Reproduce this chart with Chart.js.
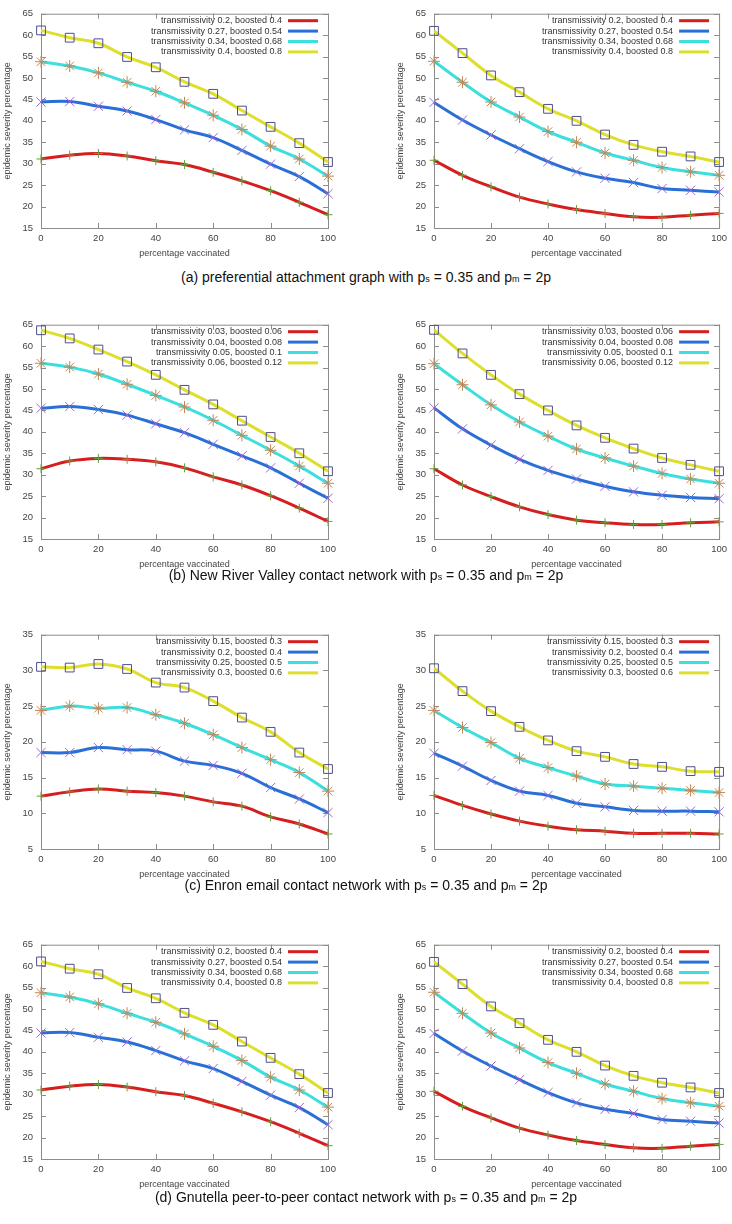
<!DOCTYPE html>
<html lang="en">
<head>
<meta charset="UTF-8">
<title>Epidemic severity vs percentage vaccinated</title>
<script src="https://cdn.jsdelivr.net/npm/chart.js"></script>
<style>
  body { margin: 0; background: #fff; font-family: "Liberation Sans", Arial, sans-serif; }
  #page { position: relative; width: 732px; height: 1224px; overflow: hidden; }
  .panel { position: absolute; width: 366px; height: 262px; }
  .caption { position: absolute; left: 0; width: 732px; text-align: center; font-size: 14px; line-height: 16px; color: #111; }
  .caption .sub { font-size: 9px; }
</style>
</head>
<body>
<div id="page">
  <canvas class="panel" id="aL" width="366" height="262" style="left:0;top:0"></canvas>
  <canvas class="panel" id="aR" width="366" height="262" style="left:366px;top:0"></canvas>
  <div class="caption" style="top:269px">(a) preferential attachment graph with p<span class="sub">s</span> = 0.35 and p<span class="sub">m</span> = 2p</div>

  <canvas class="panel" id="bL" width="366" height="262" style="left:0;top:311px"></canvas>
  <canvas class="panel" id="bR" width="366" height="262" style="left:366px;top:311px"></canvas>
  <div class="caption" style="top:567px">(b) New River Valley contact network with p<span class="sub">s</span> = 0.35 and p<span class="sub">m</span> = 2p</div>

  <canvas class="panel" id="cL" width="366" height="262" style="left:0;top:621px"></canvas>
  <canvas class="panel" id="cR" width="366" height="262" style="left:366px;top:621px"></canvas>
  <div class="caption" style="top:877px">(c) Enron email contact network with p<span class="sub">s</span> = 0.35 and p<span class="sub">m</span> = 2p</div>

  <canvas class="panel" id="dL" width="366" height="262" style="left:0;top:931px"></canvas>
  <canvas class="panel" id="dR" width="366" height="262" style="left:366px;top:931px"></canvas>
  <div class="caption" style="top:1189px">(d) Gnutella peer-to-peer contact network with p<span class="sub">s</span> = 0.35 and p<span class="sub">m</span> = 2p</div>
</div>

<script>
  // x values and tick labels
  const vaccinated = [0, 10, 20, 30, 40, 50, 60, 70, 80, 90, 100];
  const xTickValues = [0, 20, 40, 60, 80, 100];
  const yTicksHigh = [15, 20, 25, 30, 35, 40, 45, 50, 55, 60, 65];
  const yTicksLow = [5, 10, 15, 20, 25, 30, 35];

  // legend labels
  const labelsA = ['transmissivity 0.2, boosted 0.4', 'transmissivity 0.27, boosted 0.54',
                   'transmissivity 0.34, boosted 0.68', 'transmissivity 0.4, boosted 0.8'];
  const labelsB = ['transmissivity 0.03, boosted 0.06', 'transmissivity 0.04, boosted 0.08',
                   'transmissivity 0.05, boosted 0.1', 'transmissivity 0.06, boosted 0.12'];
  const labelsC = ['transmissivity 0.15, boosted 0.3', 'transmissivity 0.2, boosted 0.4',
                   'transmissivity 0.25, boosted 0.5', 'transmissivity 0.3, boosted 0.6'];

  // (a) preferential attachment (also reused for (d), same picture)
  const aLeftRed    = [31.1, 32.0, 32.4, 31.8, 30.7, 29.8, 28.0, 26.0, 23.7, 21.0, 18.1];
  const aLeftBlue   = [44.4, 44.5, 43.4, 42.3, 40.3, 37.9, 36.1, 33.1, 29.9, 27.0, 23.0];
  const aLeftCyan   = [53.8, 52.8, 51.2, 49.0, 46.9, 44.2, 41.3, 38.0, 34.1, 31.1, 27.1];
  const aLeftYellow = [61.1, 59.4, 58.1, 54.9, 52.5, 49.1, 46.3, 42.4, 38.6, 34.8, 30.4];

  const aRightRed    = [30.8, 27.3, 24.6, 22.2, 20.6, 19.3, 18.4, 17.6, 17.5, 18.0, 18.4];
  const aRightBlue   = [44.3, 40.2, 36.7, 33.5, 30.5, 28.1, 26.6, 25.6, 24.2, 23.8, 23.4];
  const aRightCyan   = [53.9, 49.0, 44.4, 40.9, 37.5, 35.0, 32.5, 30.8, 29.1, 28.1, 27.3];
  const aRightYellow = [61.0, 55.8, 50.6, 46.7, 42.8, 40.0, 36.8, 34.4, 32.8, 31.7, 30.4];

  // (b) New River Valley
  const bLeftRed    = [31.4, 33.2, 33.8, 33.6, 33.0, 31.6, 29.5, 27.6, 25.1, 22.2, 19.1];
  const bLeftBlue   = [45.5, 45.9, 45.2, 43.9, 41.9, 39.8, 37.1, 34.4, 31.6, 28.0, 24.5];
  const bLeftCyan   = [56.0, 55.1, 53.5, 51.1, 48.5, 45.8, 42.7, 39.2, 35.7, 32.0, 28.0];
  const bLeftYellow = [63.7, 61.8, 59.2, 56.4, 53.3, 49.8, 46.4, 42.6, 38.8, 35.0, 30.8];

  const bRightRed    = [31.4, 27.6, 24.9, 22.5, 20.7, 19.4, 18.8, 18.4, 18.4, 18.8, 19.0];
  const bRightBlue   = [45.6, 40.7, 36.9, 33.6, 31.0, 29.0, 27.3, 26.0, 25.2, 24.7, 24.4];
  const bRightCyan   = [55.9, 51.0, 46.3, 42.3, 39.0, 36.0, 33.9, 32.0, 30.3, 29.0, 28.0];
  const bRightYellow = [63.8, 58.3, 53.3, 48.8, 45.0, 41.5, 38.6, 36.1, 33.9, 32.3, 30.8];

  // (c) Enron email
  const cLeftRed    = [12.4, 13.0, 13.4, 13.1, 12.9, 12.4, 11.6, 11.0, 9.5, 8.5, 7.1];
  const cLeftBlue   = [18.5, 18.5, 19.2, 18.9, 18.7, 17.3, 16.7, 15.6, 13.6, 12.0, 10.1];
  const cLeftCyan   = [24.4, 25.0, 24.7, 24.8, 23.8, 22.6, 21.0, 19.2, 17.5, 15.7, 13.1];
  const cLeftYellow = [30.5, 30.4, 30.9, 30.2, 28.3, 27.6, 25.7, 23.4, 21.4, 18.5, 16.2];

  const cRightRed    = [12.5, 11.1, 9.9, 8.9, 8.2, 7.7, 7.5, 7.2, 7.2, 7.2, 7.1];
  const cRightBlue   = [18.4, 16.6, 14.6, 13.1, 12.5, 11.4, 10.9, 10.4, 10.3, 10.3, 10.2];
  const cRightCyan   = [24.4, 22.0, 19.9, 17.7, 16.4, 15.2, 14.1, 13.8, 13.5, 13.2, 12.9];
  const cRightYellow = [30.3, 27.1, 24.3, 22.1, 20.2, 18.7, 17.9, 16.9, 16.5, 15.9, 15.8];

  // styles (gnuplot-ish)
  const lineColors = ['#d61e1e', '#2a6fd6', '#3ddede', '#dede2c'];
  const markerColors = ['#6a9e40', '#9a6ad0', '#c08858', '#4e4e8a'];
  const markerStyles = ['cross', 'crossRot', 'star', 'rect'];
  const markerSizes = [4.5, 6.5, 6, 6.2];
  const textColor = '#444';
  const fontFamily = '"Liberation Sans", Arial, sans-serif';

  // frame with gnuplot style inner tick marks on all four sides
  const framePlugin = {
    id: 'frame',
    beforeDatasetsDraw(chart) {
      const { ctx, chartArea: a, scales } = chart;
      ctx.save();
      ctx.strokeStyle = '#8c8c8c';
      ctx.lineWidth = 1;
      ctx.strokeRect(a.left + 0.5, a.top + 0.5, a.right - a.left, a.bottom - a.top);
      ctx.beginPath();
      scales.x.ticks.forEach(t => {
        const x = Math.round(scales.x.getPixelForValue(t.value)) + 0.5;
        ctx.moveTo(x, a.bottom); ctx.lineTo(x, a.bottom - 5);
        ctx.moveTo(x, a.top); ctx.lineTo(x, a.top + 5);
      });
      scales.y.ticks.forEach(t => {
        const y = Math.round(scales.y.getPixelForValue(t.value)) + 0.5;
        ctx.moveTo(a.left, y); ctx.lineTo(a.left + 5, y);
        ctx.moveTo(a.right, y); ctx.lineTo(a.right - 5, y);
      });
      ctx.stroke();
      ctx.restore();
    }
  };

  // key in the top right corner: text first, line sample after it
  const keyPlugin = {
    id: 'gnuKey',
    afterDatasetsDraw(chart, args, opts) {
      const { ctx, chartArea: a } = chart;
      ctx.save();
      ctx.font = '9px ' + fontFamily;
      ctx.textAlign = 'right';
      ctx.textBaseline = 'middle';
      opts.labels.forEach((text, i) => {
        const y = a.top + 7 + i * 10.4;
        ctx.fillStyle = '#333';
        ctx.fillText(text, a.right - 46, y);
        ctx.strokeStyle = lineColors[i];
        ctx.lineWidth = 3;
        ctx.beginPath();
        ctx.moveTo(a.right - 40, y);
        ctx.lineTo(a.right - 10, y);
        ctx.stroke();
      });
      ctx.restore();
    }
  };

  function makePanel(id, side, series, labels, yTicks) {
    const lines = series.map((vals, i) => ({
      data: vals.map((v, k) => ({ x: vaccinated[k], y: v })),
      borderColor: lineColors[i],
      borderWidth: 3,
      tension: 0.4,
      pointRadius: 0,
      fill: false,
      clip: false,
      order: 1
    }));
    const marks = series.map((vals, i) => ({
      data: vals.map((v, k) => ({ x: vaccinated[k], y: v })),
      showLine: false,
      pointStyle: markerStyles[i],
      pointRadius: markerSizes[i],
      pointBorderWidth: 1,
      borderColor: markerColors[i],
      backgroundColor: 'rgba(0,0,0,0)',
      clip: false,
      order: 0
    }));

    const tickFont = { family: fontFamily, size: 9.5 };
    new Chart(document.getElementById(id), {
      type: 'line',
      data: { datasets: lines.concat(marks) },
      options: {
        responsive: false,
        animation: false,
        devicePixelRatio: 1,
        layout: { padding: { left: side === 'L' ? 0 : 27, right: side === 'L' ? 38 : 11, top: 7, bottom: 0 } },
        plugins: {
          legend: { display: false },
          tooltip: { enabled: false },
          gnuKey: { labels: labels }
        },
        scales: {
          x: {
            type: 'linear',
            min: 0,
            max: 100,
            afterBuildTicks: s => { s.ticks = xTickValues.map(v => ({ value: v })); },
            afterFit: s => { s.height = 34; },
            grid: { display: false, drawTicks: false, tickLength: 0 },
            border: { display: false },
            ticks: { padding: 5, color: textColor, font: tickFont, maxRotation: 0, autoSkip: false },
            title: { display: true, text: 'percentage vaccinated', color: textColor,
                     font: { family: fontFamily, size: 9 }, padding: { top: 0, bottom: 3 } }
          },
          y: {
            type: 'linear',
            min: yTicks[0],
            max: yTicks[yTicks.length - 1],
            afterBuildTicks: s => { s.ticks = yTicks.map(v => ({ value: v })); },
            afterFit: s => { s.width = 41; },
            grid: { display: false, drawTicks: false, tickLength: 0 },
            border: { display: false },
            ticks: { padding: 8, color: textColor, font: tickFont, autoSkip: false },
            title: { display: true, text: 'epidemic severity percentage', color: textColor,
                     font: { family: fontFamily, size: 9 }, padding: { top: 2, bottom: 0 } }
          }
        }
      },
      plugins: [framePlugin, keyPlugin]
    });
  }

  makePanel('aL', 'L', [aLeftRed, aLeftBlue, aLeftCyan, aLeftYellow], labelsA, yTicksHigh);
  makePanel('aR', 'R', [aRightRed, aRightBlue, aRightCyan, aRightYellow], labelsA, yTicksHigh);
  makePanel('bL', 'L', [bLeftRed, bLeftBlue, bLeftCyan, bLeftYellow], labelsB, yTicksHigh);
  makePanel('bR', 'R', [bRightRed, bRightBlue, bRightCyan, bRightYellow], labelsB, yTicksHigh);
  makePanel('cL', 'L', [cLeftRed, cLeftBlue, cLeftCyan, cLeftYellow], labelsC, yTicksLow);
  makePanel('cR', 'R', [cRightRed, cRightBlue, cRightCyan, cRightYellow], labelsC, yTicksLow);
  makePanel('dL', 'L', [aLeftRed, aLeftBlue, aLeftCyan, aLeftYellow], labelsA, yTicksHigh);
  makePanel('dR', 'R', [aRightRed, aRightBlue, aRightCyan, aRightYellow], labelsA, yTicksHigh);
</script>
</body>
</html>
